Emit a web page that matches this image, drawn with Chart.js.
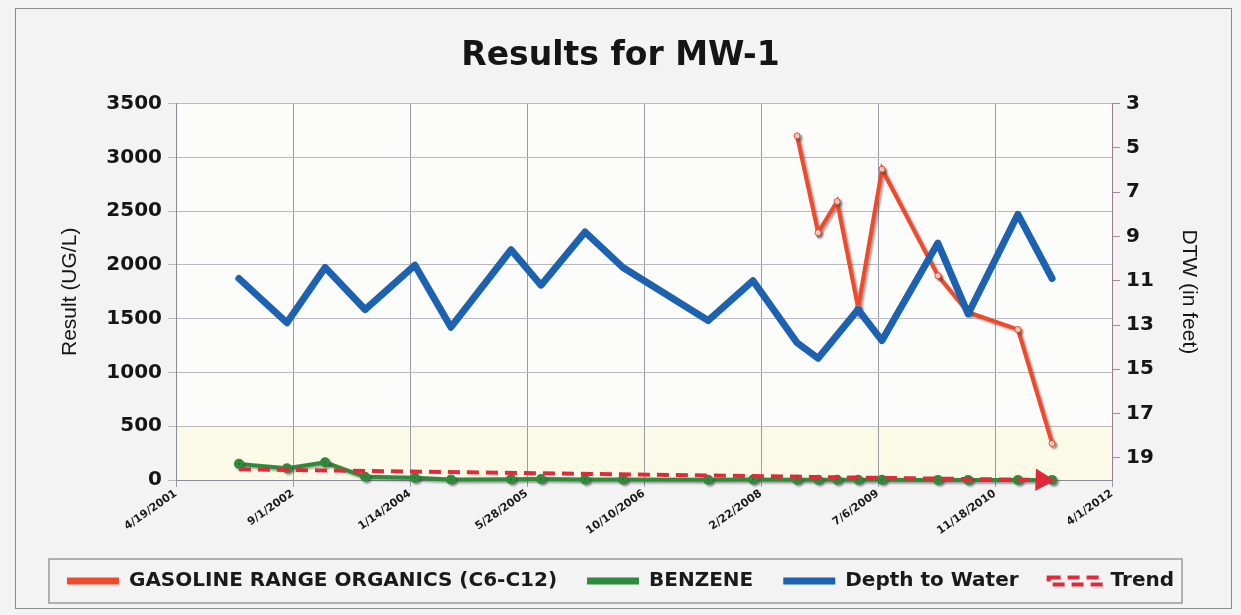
<!DOCTYPE html>
<html>
<head>
<meta charset="utf-8">
<title>Results for MW-1</title>
<script src="https://cdn.jsdelivr.net/npm/chart.js@4.4.1/dist/chart.umd.min.js"></script>
<style>
  html, body { margin: 0; padding: 0; background: #f3f3f3; }
  #wrap { width: 1241px; height: 615px; position: relative; }
</style>
</head>
<body>
<div id="wrap"><canvas id="mwChart"></canvas></div>
<script>
// ── Data ────────────────────────────────────────────────────
const sampleDates = [
  "1/13/2002", "8/6/2002", "1/16/2003", "7/6/2003", "2/4/2004", "7/7/2004",
  "3/21/2005", "7/27/2005", "1/31/2006", "7/12/2006", "7/11/2007", "1/19/2008",
  "7/25/2008", "10/23/2008", "1/12/2009", "4/12/2009", "7/23/2009", "3/19/2010",
  "7/26/2010", "2/24/2011", "7/20/2011"
];
const groValues = [
  null, null, null, null, null, null,
  null, null, null, null, null, null,
  3200, 2300, 2590, 1600, 2890, 1900,
  1560, 1400, 340
];
const benzeneValues = [
  150, 110, 165, 30, 20, 5,
  8, 10, 5, 5, 3, 4,
  3, 2, 2, 2, 2, 1,
  1, 1, 1
];
const dtwValues = [
  10.9, 12.9, 10.4, 12.3, 10.3, 13.1,
  9.6, 11.2, 8.8, 10.4, 12.8, 11.0,
  13.8, 14.5, null, 12.3, 13.7, 9.3,
  12.5, 8.0, 10.9
];
const trendDates  = ["1/13/2002", "6/7/2011"];
const trendValues = [100, 0];

const xTickLabels = [
  "4/19/2001", "9/1/2002", "1/14/2004", "5/28/2005", "10/10/2006",
  "2/22/2008", "7/6/2009", "11/18/2010", "4/1/2012"
];
const leftTicks  = [0, 500, 1000, 1500, 2000, 2500, 3000, 3500];
const rightTicks = [3, 5, 7, 9, 11, 13, 15, 17, 19];

// ── Helpers ─────────────────────────────────────────────────
function toDay(s) {
  const [m, d, y] = s.split("/").map(Number);
  return Date.UTC(y, m - 1, d) / 86400000;
}
function series(dates, values) {
  const pts = [];
  dates.forEach((d, i) => { if (values[i] !== null) pts.push({ x: toDay(d), y: values[i] }); });
  return pts;
}

const FONT = "'DejaVu Sans', 'Liberation Sans', sans-serif";
const SANS = "'Liberation Sans', Arial, sans-serif";

// ── Plugins ─────────────────────────────────────────────────
const backdrop = {
  id: "backdrop",
  beforeDraw(chart) {
    const { ctx, chartArea: a, scales } = chart;
    ctx.save();
    ctx.fillStyle = "#f3f3f3";
    ctx.fillRect(0, 0, chart.width, chart.height);
    ctx.strokeStyle = "#8c8c8c";
    ctx.lineWidth = 1;
    ctx.strokeRect(15.5, 8.5, 1216, 600);
    ctx.fillStyle = "#fcfcfb";
    ctx.fillRect(a.left, a.top, a.right - a.left, a.bottom - a.top);
    const y500 = scales.y.getPixelForValue(500);
    ctx.fillStyle = "#fbfae6";
    ctx.fillRect(a.left, y500, a.right - a.left, a.bottom - y500);
    ctx.restore();
  }
};

const legendFrame = {
  id: "legendFrame",
  afterDraw(chart) {
    const lg = chart.legend;
    if (!lg || !lg.legendHitBoxes.length) return;
    const hb = lg.legendHitBoxes;
    const left = Math.min(...hb.map(h => h.left)) - 18;
    const right = Math.max(...hb.map(h => h.left + h.width)) + 8;
    const top = hb[0].top - 12, bottom = hb[0].top + hb[0].height + 12;
    const ctx = chart.ctx;
    ctx.save();
    ctx.strokeStyle = "#9a9a9a";
    ctx.lineWidth = 1.5;
    ctx.strokeRect(left, top, right - left, bottom - top);
    ctx.restore();
  }
};

const lineShadow = {
  id: "lineShadow",
  beforeDatasetDraw(chart, args) {
    if (args.index > 1) return;
    const ctx = chart.ctx;
    ctx.save();
    ctx.shadowColor = "rgba(60,60,60,0.45)";
    ctx.shadowOffsetX = 2;
    ctx.shadowOffsetY = 2;
    ctx.shadowBlur = 2;
  },
  afterDatasetDraw(chart, args) {
    if (args.index > 1) return;
    chart.ctx.restore();
  }
};

// ── Chart ───────────────────────────────────────────────────
new Chart(document.getElementById("mwChart"), {
  type: "line",
  data: {
    datasets: [
      {
        label: "GASOLINE RANGE ORGANICS (C6-C12)",
        data: series(sampleDates, groValues),
        yAxisID: "y",
        borderColor: "#ee4a2b",
        backgroundColor: "#ee4a2b",
        borderWidth: 4,
        pointRadius: 3,
        pointBackgroundColor: "#fbe3da",
        pointBorderColor: "#ee4a2b",
        pointBorderWidth: 1,
        tension: 0,
        order: 3
      },
      {
        label: "BENZENE",
        data: series(sampleDates, benzeneValues),
        yAxisID: "y",
        borderColor: "#2f8a3b",
        backgroundColor: "#2f8a3b",
        borderWidth: 4,
        pointRadius: 3,
        pointBackgroundColor: "#2f8a3b",
        pointBorderColor: "#2f8a3b",
        tension: 0,
        clip: 8,
        order: 4
      },
      {
        label: "Depth to Water",
        data: series(sampleDates, dtwValues),
        yAxisID: "y2",
        borderColor: "#1c62b0",
        backgroundColor: "#1c62b0",
        borderWidth: 7,
        pointRadius: 0,
        borderJoinStyle: "round",
        borderCapStyle: "round",
        tension: 0,
        order: 1
      },
      {
        label: "Trend",
        data: series(trendDates, trendValues),
        yAxisID: "y",
        borderColor: "#e02a3a",
        backgroundColor: "#e02a3a",
        borderWidth: 4,
        borderDash: [12, 7],
        pointStyle: "triangle",
        pointRadius: [0, 9],
        pointRotation: 92,
        pointBackgroundColor: "#e02a3a",
        pointBorderColor: "#e02a3a",
        clip: 12,
        order: 2
      }
    ]
  },
  options: {
    responsive: true,
    maintainAspectRatio: false,
    animation: false,
    layout: { padding: { left: 20, right: 20, top: 10, bottom: 14 } },
    plugins: {
      title: {
        display: true,
        text: "Results for MW-1",
        color: "#151515",
        font: { family: FONT, size: 33, weight: "bold" },
        padding: { top: 27, bottom: 27 }
      },
      legend: {
        position: "bottom",
        labels: {
          color: "#1a1a1a",
          font: { family: FONT, size: 20, weight: "bold" },
          boxWidth: 52,
          boxHeight: 7,
          padding: 30,
          sort: (a, b) => a.datasetIndex - b.datasetIndex,
          generateLabels(chart) {
            const items = Chart.defaults.plugins.legend.labels.generateLabels(chart);
            items.forEach(it => {
              if (it.text === "Trend") {
                it.fillStyle = "rgba(0,0,0,0)";
                it.lineWidth = 4;
                it.lineDash = [12, 7];
              } else {
                it.lineWidth = 0;
              }
            });
            return items;
          }
        }
      },
      tooltip: { enabled: false }
    },
    scales: {
      x: {
        type: "linear",
        min: toDay(xTickLabels[0]),
        max: toDay(xTickLabels[xTickLabels.length - 1]),
        afterBuildTicks: s => { s.ticks = xTickLabels.map(d => ({ value: toDay(d) })); },
        afterFit: s => { s.height = 61; },
        ticks: {
          autoSkip: false,
          minRotation: 35,
          maxRotation: 35,
          padding: 0,
          color: "#1a1a1a",
          font: { family: FONT, size: 11, weight: "bold" },
          callback: (v, i) => xTickLabels[i]
        },
        grid: { color: "#9a9aaa", lineWidth: 1, tickLength: 7 },
        border: { color: "#8a8a9a" }
      },
      y: {
        position: "left",
        min: 0,
        max: 3500,
        afterBuildTicks: s => { s.ticks = leftTicks.map(v => ({ value: v })); },
        afterFit: s => { s.width = 156; },
        ticks: {
          color: "#151515",
          padding: 6,
          font: { family: FONT, size: 20, weight: "bold" },
          callback: v => String(v)
        },
        title: {
          display: true,
          text: "Result (UG/L)",
          color: "#151515",
          font: { family: SANS, size: 21 },
          padding: { top: 38, bottom: 0 }
        },
        grid: { color: "#b9b9bf", lineWidth: 1, tickLength: 8 },
        border: { color: "#8a8a9a" }
      },
      y2: {
        position: "right",
        reverse: true,
        min: 3,
        max: 20,
        afterBuildTicks: s => { s.ticks = rightTicks.map(v => ({ value: v })); },
        afterFit: s => { s.width = 109; },
        ticks: {
          color: "#151515",
          padding: 6,
          font: { family: FONT, size: 20, weight: "bold" },
          callback: v => String(v)
        },
        title: {
          display: true,
          text: "DTW (in feet)",
          color: "#151515",
          font: { family: SANS, size: 21 },
          padding: { top: 20, bottom: 0 }
        },
        grid: { drawOnChartArea: false, color: "#a58a9c", tickLength: 8 },
        border: { color: "#a07a92" }
      }
    }
  },
  plugins: [backdrop, legendFrame, lineShadow]
});
</script>
</body>
</html>
